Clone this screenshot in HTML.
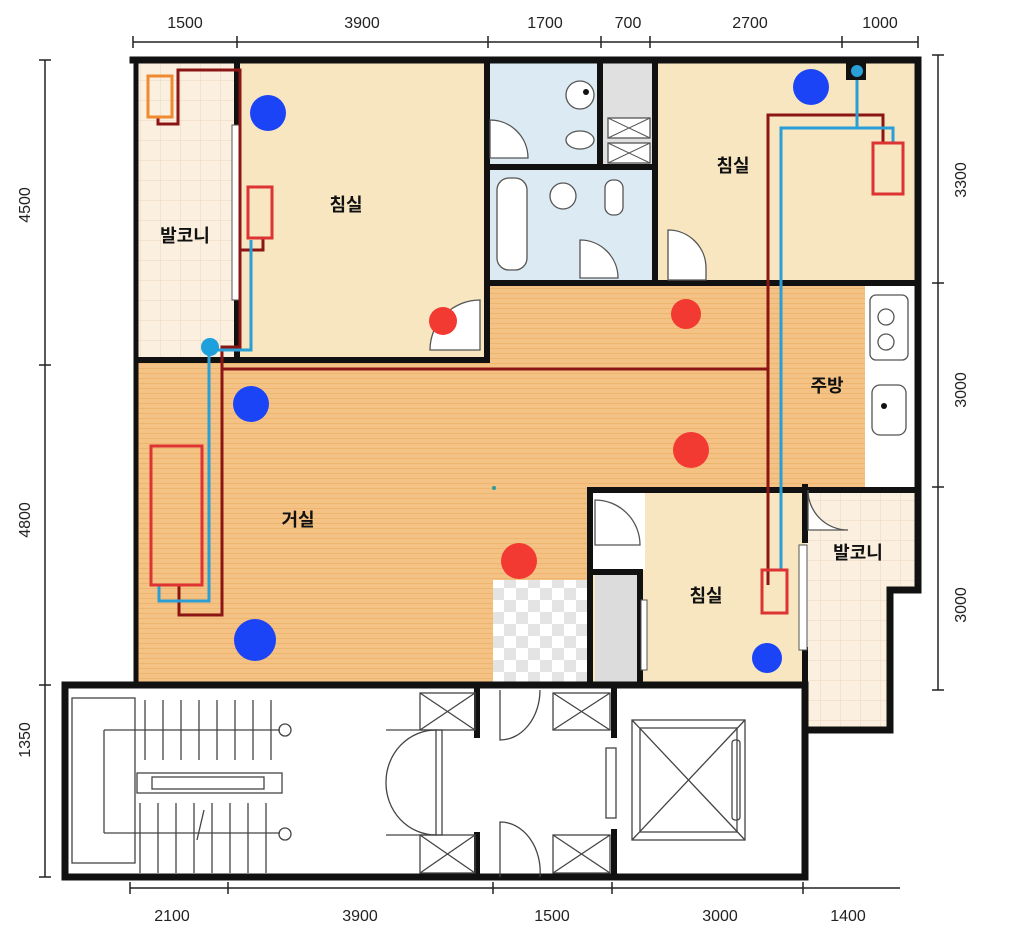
<!DOCTYPE html>
<html><head><meta charset="utf-8"><style>
body{margin:0;background:#fff}
svg{display:block}
text{font-family:"Liberation Sans","Noto Sans CJK KR",sans-serif}
</style></head><body>
<svg width="1024" height="939" viewBox="0 0 1024 939" xmlns="http://www.w3.org/2000/svg">
<defs>
<pattern id="wood" width="10" height="5" patternUnits="userSpaceOnUse"><rect width="10" height="5" fill="#f5c285"/><rect y="3" width="10" height="1" fill="#eeb56f"/></pattern>
<pattern id="tile" width="20" height="20" patternUnits="userSpaceOnUse"><rect width="20" height="20" fill="#fbefdf"/><path d="M0 0H20M0 0V20" stroke="#ead6bd" stroke-width="1"/></pattern>
<pattern id="chk" width="24" height="24" patternUnits="userSpaceOnUse"><rect width="24" height="24" fill="#fff"/><rect width="12" height="12" fill="#e4e4e4"/><rect x="12" y="12" width="12" height="12" fill="#e4e4e4"/></pattern>
</defs>
<g stroke="#222" stroke-width="1.5" fill="none">
<path d="M133 42H918"/><path d="M133 36V48M237 36V48M488 36V48M601 36V48M650 36V48M842 36V48M918 36V48"/>
<path d="M130 888H900"/><path d="M130 882V894M228 882V894M493 882V894M612 882V894M803 882V894"/>
<path d="M45 60V877"/><path d="M39 60H51M39 365H51M39 685H51M39 877H51"/>
<path d="M938 55V690"/><path d="M932 55H944M932 283H944M932 487H944M932 690H944"/>
</g>
<g font-size="16" fill="#222" text-anchor="middle">
<text x="185" y="28">1500</text><text x="362" y="28">3900</text><text x="545" y="28">1700</text><text x="628" y="28">700</text><text x="750" y="28">2700</text><text x="880" y="28">1000</text>
<text x="172" y="921">2100</text><text x="360" y="921">3900</text><text x="552" y="921">1500</text><text x="720" y="921">3000</text><text x="848" y="921">1400</text>
<text transform="translate(30,205) rotate(-90)">4500</text><text transform="translate(30,520) rotate(-90)">4800</text><text transform="translate(30,740) rotate(-90)">1350</text>
<text transform="translate(966,180) rotate(-90)">3300</text><text transform="translate(966,390) rotate(-90)">3000</text><text transform="translate(966,605) rotate(-90)">3000</text>
</g>
<rect x="137" y="62" width="100" height="295" fill="url(#tile)"/>
<rect x="237" y="62" width="250" height="295" fill="#f7e6c0"/>
<rect x="487" y="62" width="113" height="103" fill="#dcebf3"/>
<rect x="600" y="62" width="55" height="103" fill="#e0e0e0"/>
<rect x="487" y="170" width="168" height="110" fill="#dcebf3"/>
<rect x="655" y="62" width="263" height="221" fill="#f7e6c0"/>
<rect x="487" y="283" width="378" height="205" fill="url(#wood)"/>
<rect x="865" y="283" width="53" height="205" fill="#fff"/>
<rect x="137" y="362" width="453" height="323" fill="url(#wood)"/>
<rect x="493" y="580" width="97" height="105" fill="url(#chk)"/>
<rect x="590" y="487" width="215" height="198" fill="#f7e6c0"/>
<rect x="590" y="490" width="55" height="80" fill="#fff"/>
<rect x="595" y="572" width="42" height="113" fill="#dcdcdc"/>
<path d="M805 487H918V590H890V730H805Z" fill="url(#tile)"/>
<rect x="65" y="685" width="740" height="192" fill="#fff"/>
<g fill="none" stroke="#111" stroke-linecap="square">
<path d="M133 60H918V590M918 590H890V730H805" stroke-width="7"/>
<path d="M136 60V685" stroke-width="5"/>
<path d="M137 360H487V283M487 60V283M487 283H918" stroke-width="6"/>
<path d="M237 62V130M237 300V357" stroke-width="6"/>
<path d="M487 167H655M600 62V165M655 62V283" stroke-width="6"/>
<path d="M590 490H918M590 490V685M640 572V685M595 572H640" stroke-width="6"/>
<path d="M805 487V540M805 650V730" stroke-width="6"/>
<path d="M65 685H805V877H65Z" stroke-width="7"/>
<path d="M477 690V735M477 835V877M614 690V735M614 832V877" stroke-width="6"/>
</g>
<g fill="#fff" stroke="#555" stroke-width="1"><rect x="232" y="125" width="8" height="175"/><rect x="799" y="545" width="8" height="105"/><rect x="641" y="600" width="6" height="70"/></g>
<g fill="#fff" stroke="#555" stroke-width="1.3">
<rect x="497" y="178" width="30" height="92" rx="12"/>
<circle cx="580" cy="95" r="14"/><circle cx="563" cy="196" r="13"/>
<rect x="605" y="180" width="18" height="35" rx="8"/><ellipse cx="580" cy="140" rx="14" ry="9"/>
<rect x="870" y="295" width="38" height="65" rx="6"/><circle cx="886" cy="317" r="8"/><circle cx="886" cy="342" r="8"/>
<rect x="872" y="385" width="34" height="50" rx="8"/>
<path d="M490 120A38 38 0 0 1 528 158H490Z"/><path d="M580 240A38 38 0 0 1 618 278H580Z"/>
<path d="M668 230A38 38 0 0 1 706 268V280H668Z"/><path d="M430 350A50 50 0 0 1 480 300V350Z"/>
<path d="M595 500A45 45 0 0 1 640 545H595Z"/><path d="M808 490A40 40 0 0 0 848 530H808Z"/>
<rect x="608" y="118" width="42" height="20"/><rect x="608" y="143" width="42" height="20"/>
</g>
<g stroke="#555" stroke-width="1"><path d="M608 118L650 138M650 118L608 138M608 143L650 163M650 143L608 163"/></g>
<circle cx="884" cy="406" r="3" fill="#111"/><circle cx="586" cy="92" r="3" fill="#111"/>
<!-- stair core -->
<g fill="none" stroke="#444" stroke-width="1.3">
<rect x="72" y="698" width="63" height="165"/>
<path d="M104 730H280M104 833H280M104 730V833"/>
<path d="M145 700V760M163 700V760M181 700V760M199 700V760M217 700V760M235 700V760M253 700V760M271 700V760"/>
<path d="M140 803V873M158 803V873M176 803V873M194 803V873M212 803V873M230 803V873M248 803V873M266 803V873"/>
<rect x="137" y="773" width="145" height="20"/><rect x="152" y="777" width="112" height="12"/>
<circle cx="285" cy="730" r="6"/><circle cx="285" cy="834" r="6"/>
<path d="M204 810L197 840"/>
<rect x="420" y="693" width="55" height="37"/><path d="M420 693L475 730M475 693L420 730"/>
<rect x="420" y="835" width="55" height="38"/><path d="M420 835L475 873M475 835L420 873"/>
<rect x="553" y="693" width="57" height="37"/><path d="M553 693L610 730M610 693L553 730"/>
<rect x="553" y="835" width="57" height="38"/><path d="M553 835L610 873M610 835L553 873"/>
<rect x="436" y="730" width="6" height="105"/>
<path d="M436 730A50 52 0 0 0 386 782A50 52 0 0 0 436 835"/><path d="M386 730H436M386 835H436"/>
<path d="M500 690V740A40 50 0 0 0 540 690M500 877V822A40 50 0 0 1 540 877"/>
<rect x="606" y="748" width="10" height="70"/>
<rect x="632" y="720" width="113" height="120"/><rect x="640" y="728" width="97" height="104"/><path d="M632 720L745 840M745 720L632 840"/>
<rect x="732" y="740" width="8" height="80" rx="3"/>
</g>
<g fill="none" stroke-width="3" stroke-linejoin="miter">
<path stroke="#8b1515" d="M158 117V124H178V70H240V347H222V615H179V585"/>
<path stroke="#8b1515" d="M240 250H263V238"/>
<path stroke="#8b1515" d="M222 369H768M768 585V115H883V143"/>
<path stroke="#2a9fd6" d="M251 240V350H212M209 350V601H159V585"/>
<path stroke="#2a9fd6" d="M781 570V128H893V143M857 70V128"/>
</g>
<rect x="846" y="62" width="20" height="18" fill="#111"/><circle cx="857" cy="71" r="6" fill="#2aa0d8"/>
<circle cx="210" cy="347" r="9" fill="#1ea0dc"/>
<g fill="none" stroke-width="3">
<rect x="148" y="76" width="24" height="41" stroke="#f08a30"/>
<rect x="248" y="187" width="24" height="51" stroke="#d33"/>
<rect x="151" y="446" width="51" height="139" stroke="#d33"/>
<rect x="873" y="143" width="30" height="51" stroke="#d33"/>
<rect x="762" y="570" width="25" height="43" stroke="#d33"/>
</g>
<g fill="#1a44f5"><circle cx="268" cy="113" r="18"/><circle cx="251" cy="404" r="18"/><circle cx="255" cy="640" r="21"/><circle cx="811" cy="87" r="18"/><circle cx="767" cy="658" r="15"/></g>
<g fill="#f23a32"><circle cx="443" cy="321" r="14"/><circle cx="686" cy="314" r="15"/><circle cx="691" cy="450" r="18"/><circle cx="519" cy="561" r="18"/></g>
<circle cx="494" cy="488" r="2" fill="#2a9a9a"/>
<g font-size="18" font-weight="bold" fill="#111" text-anchor="middle">
<text x="185" y="242">발코니</text><text x="346" y="211">침실</text><text x="733" y="172">침실</text>
<text x="827" y="392">주방</text><text x="298" y="526">거실</text><text x="858" y="559">발코니</text><text x="706" y="602">침실</text>
</g>
</svg>
</body></html>
